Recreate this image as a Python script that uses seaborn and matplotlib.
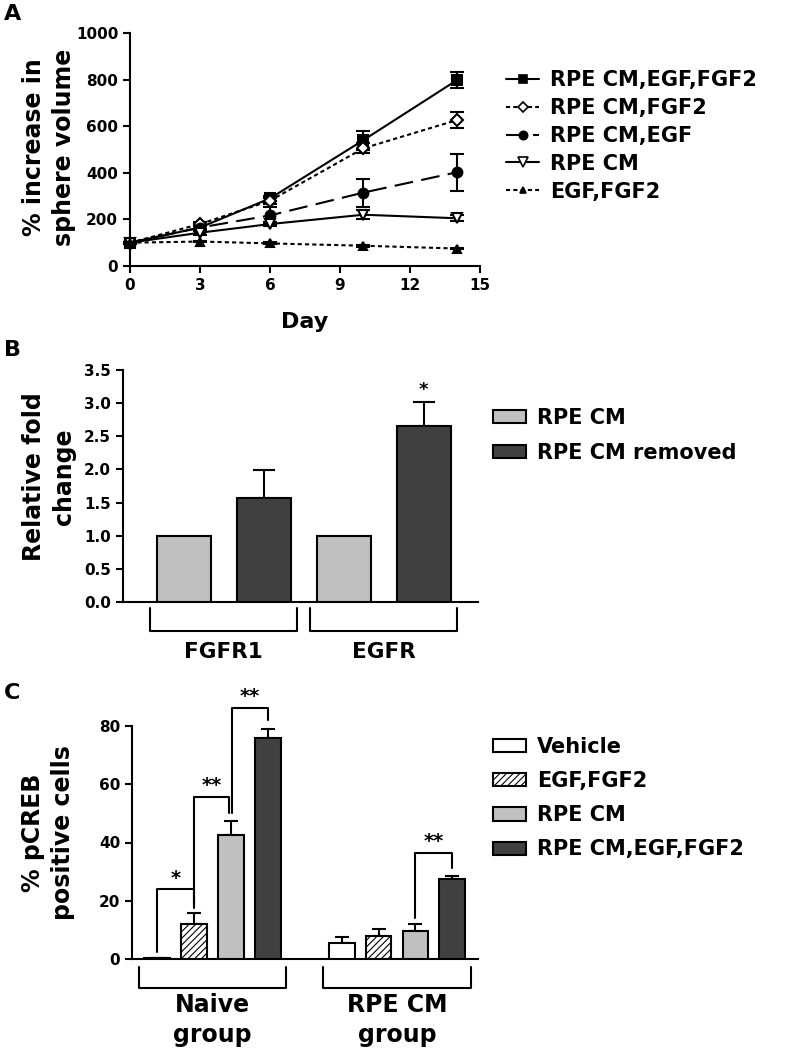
import matplotlib
matplotlib.use("Agg")
import matplotlib.pyplot as plt
import matplotlib.transforms as mtransforms
from matplotlib.lines import Line2D
from matplotlib.patches import Patch
import pandas as pd
import seaborn as sns

sns.set_style("ticks")
plt.rcParams['font.family'] = ['DejaVu Sans']
plt.rcParams['font.weight'] = 'bold'
plt.rcParams['axes.labelweight'] = 'bold'
plt.rcParams['hatch.linewidth'] = 0.8
for key in ['text.color', 'axes.labelcolor', 'xtick.color', 'ytick.color', 'axes.edgecolor']:
    plt.rcParams[key] = 'black'

# ---- panel A: sphere volume over time ----
days = [0, 3, 6, 10, 14]
series_names = ["RPE CM,EGF,FGF2", "RPE CM,FGF2", "RPE CM,EGF", "RPE CM", "EGF,FGF2"]
vol_cm_egf_fgf2 = [100, 165, 290, 540, 797]
vol_cm_fgf2 = [100, 180, 280, 505, 626]
vol_cm_egf = [100, 165, 217, 315, 402]
vol_cm = [100, 143, 180, 220, 205]
vol_egf_fgf2 = [100, 105, 97, 87, 75]
err_cm_egf_fgf2 = [4, 8, 12, 40, 35]
err_cm_fgf2 = [4, 8, 12, 22, 33]
err_cm_egf = [4, 8, 35, 60, 78]
err_cm = [4, 8, 10, 20, 12]
err_egf_fgf2 = [3, 4, 4, 4, 4]

# ---- panel B: receptor expression ----
genes = ["FGFR1", "EGFR"]
conditions_b = ["RPE CM", "RPE CM removed"]
fold_rpe_cm = [1.0, 1.0]
fold_removed = [1.57, 2.66]
fold_err_removed = [0.42, 0.35]

# ---- panel C: pCREB ----
groups = ["Naive\ngroup", "RPE CM\ngroup"]
treatments = ["Vehicle", "EGF,FGF2", "RPE CM", "RPE CM,EGF,FGF2"]
pcreb_vehicle = [0.3, 5.6]
pcreb_egf_fgf2 = [12.0, 7.9]
pcreb_rpe_cm = [42.6, 9.6]
pcreb_rpe_cm_egf_fgf2 = [75.8, 27.5]
pcreb_err_vehicle = [0.2, 2.1]
pcreb_err_egf_fgf2 = [3.9, 2.3]
pcreb_err_rpe_cm = [4.9, 2.3]
pcreb_err_rpe_cm_egf_fgf2 = [3.2, 1.0]

LIGHT = "#c0c0c0"
DARK = "#404040"
W, H = 806, 1050


def px_axes(left, top, right, bottom):
    return fig.add_axes([left / W, 1 - bottom / H, (right - left) / W, (bottom - top) / H])


def style_axes(ax):
    sns.despine(ax=ax)
    for s in ["left", "bottom"]:
        ax.spines[s].set_linewidth(1.5)
        ax.spines[s].set_color("black")
    ax.tick_params(axis="y", direction="out", length=5, width=1.5, labelsize=11)
    for lab in ax.get_yticklabels():
        lab.set_fontweight("bold")


def group_bracket(ax, x0, x1, ytop, ybot, label, ylab, fs):
    tr = mtransforms.blended_transform_factory(ax.transData, ax.transAxes)
    ax.plot([x0, x0, x1, x1], [ytop, ybot, ybot, ytop], color="black", lw=1.5,
            transform=tr, clip_on=False)
    ax.text((x0 + x1) / 2, ylab, label, transform=tr, ha="center", va="center",
            fontsize=fs, fontweight="bold", linespacing=1.3)


fig = plt.figure(figsize=(W / 100, H / 100), dpi=100)

# ================= A =================
axA = px_axes(130, 33, 480, 266)
vols = [vol_cm_egf_fgf2, vol_cm_fgf2, vol_cm_egf, vol_cm, vol_egf_fgf2]
errs = [err_cm_egf_fgf2, err_cm_fgf2, err_cm_egf, err_cm, err_egf_fgf2]
line_styles = [
    dict(marker="s", markerfacecolor="black", linestyle="-", markersize=7),
    dict(marker="D", markerfacecolor="white", linestyle=(0, (2, 1.5)), markersize=6),
    dict(marker="o", markerfacecolor="black", linestyle=(0, (9, 4)), markersize=7),
    dict(marker="v", markerfacecolor="white", linestyle="-", markersize=7.5),
    dict(marker="^", markerfacecolor="black", linestyle=(0, (2, 1.5)), markersize=6),
]
dfA = pd.DataFrame({
    "day": days * len(series_names),
    "volume": sum(vols, []),
    "err": sum(errs, []),
    "series": [n for n in series_names for _ in days],
})
legend_a = []
for name, st in zip(series_names, line_styles):
    sub = dfA[dfA["series"] == name]
    eb = axA.errorbar(sub["day"], sub["volume"], yerr=sub["err"], fmt="none",
                      ecolor="black", elinewidth=1.5, capsize=5, capthick=1.5, zorder=2)
    for c in eb.get_children():
        c.set_clip_on(False)
    sns.lineplot(data=sub, x="day", y="volume", ax=axA, color="black", lw=1.5,
                 markeredgecolor="black", markeredgewidth=1.5, clip_on=False,
                 zorder=3, **st)
    legend_a.append(Line2D([0], [0], color="black", lw=1.5, markeredgecolor="black",
                           markeredgewidth=1.2, **{**st, "markersize": st["markersize"] - 1}))
axA.set_xlim(0, 15)
axA.set_ylim(0, 1000)
axA.set_xticks([0, 3, 6, 9, 12, 15])
axA.set_yticks(range(0, 1001, 200))
style_axes(axA)
axA.tick_params(axis="x", direction="out", length=5, width=1.5, labelsize=11)
for lab in axA.get_xticklabels():
    lab.set_fontweight("bold")
axA.set_xlabel("Day", fontsize=16, fontweight="bold", labelpad=14)
axA.set_ylabel("")
fig.text(49 / W, 1 - 147 / H, "% increase in\nsphere volume", rotation=90, ha="center",
         va="center", fontsize=17, fontweight="bold", linespacing=1.36)
fig.legend(legend_a, series_names, loc="upper left", bbox_to_anchor=(506 / W, 1 - 70 / H),
           frameon=False, fontsize=15, handlelength=1.6, handletextpad=0.5,
           labelspacing=0.38, borderpad=0, borderaxespad=0)

# ================= B =================
axB = px_axes(123, 370, 478, 602)
dfB = pd.DataFrame({
    "gene": genes * 2,
    "condition": [conditions_b[0]] * 2 + [conditions_b[1]] * 2,
    "fold": fold_rpe_cm + fold_removed,
})
sns.barplot(data=dfB, x="gene", y="fold", hue="condition", order=genes,
            hue_order=conditions_b, palette=[LIGHT, DARK], width=1.0, gap=0.325,
            edgecolor="black", linewidth=1.5, errorbar=None, legend=False, ax=axB,
            zorder=3)
bars_removed = list(axB.containers[1])
for bar, e in zip(bars_removed, fold_err_removed):
    xc = bar.get_x() + bar.get_width() / 2
    axB.errorbar([xc], [bar.get_height()], yerr=[[0], [e]], fmt="none", ecolor="black",
                 elinewidth=1.5, capsize=8, capthick=1.5, zorder=2)
star_bar = bars_removed[1]
axB.text(star_bar.get_x() + star_bar.get_width() / 2, 3.06, "*", ha="center",
         va="bottom", fontsize=13, fontweight="bold")
axB.set_xlim(-0.63, 1.59)
axB.set_ylim(0, 3.5)
axB.set_yticks([0, 0.5, 1.0, 1.5, 2.0, 2.5, 3.0, 3.5])
axB.set_yticklabels([f"{v:.1f}" for v in axB.get_yticks()])
style_axes(axB)
axB.set_xticks([])
axB.set_xlabel("")
axB.set_ylabel("")
for i, g in enumerate(genes):
    group_bracket(axB, i - 0.46, i + 0.46, -0.026, -0.125, g, -0.216, 15.5)
fig.text(49 / W, 1 - 477 / H, "Relative fold\nchange", rotation=90, ha="center",
         va="center", fontsize=17, fontweight="bold", linespacing=1.36)
fig.legend([Patch(facecolor=LIGHT, edgecolor="black", lw=1.5),
            Patch(facecolor=DARK, edgecolor="black", lw=1.5)], conditions_b,
           loc="upper left", bbox_to_anchor=(493 / W, 1 - 408 / H), frameon=False,
           fontsize=15, handlelength=1.6, handleheight=0.6, handletextpad=0.5,
           labelspacing=0.72, borderpad=0, borderaxespad=0)

# ================= C =================
axC = px_axes(132, 726, 478, 959)
vals_c = [pcreb_vehicle, pcreb_egf_fgf2, pcreb_rpe_cm, pcreb_rpe_cm_egf_fgf2]
errs_c = [pcreb_err_vehicle, pcreb_err_egf_fgf2, pcreb_err_rpe_cm, pcreb_err_rpe_cm_egf_fgf2]
dfC = pd.DataFrame({
    "group": groups * len(treatments),
    "treatment": [t for t in treatments for _ in groups],
    "pcreb": sum(vals_c, []),
})
colors_c = ["white", "white", LIGHT, DARK]
sns.barplot(data=dfC, x="group", y="pcreb", hue="treatment", order=groups,
            hue_order=treatments, palette=colors_c, width=0.8, gap=0.3,
            edgecolor="black", linewidth=1.5, errorbar=None, legend=False, ax=axC,
            zorder=3)
bar_conts = [list(c) for c in axC.containers]
for bar in bar_conts[1]:
    bar.set_hatch("/////")
centers = {}
for ti, cont in enumerate(bar_conts):
    for gi, bar in enumerate(cont):
        xc = bar.get_x() + bar.get_width() / 2
        centers[(gi, ti)] = xc
        axC.errorbar([xc], [bar.get_height()], yerr=[[0], [errs_c[ti][gi]]], fmt="none",
                     ecolor="black", elinewidth=1.5, capsize=5, capthick=1.5, zorder=2)

# significance brackets: group, left bar, right bar, top, left foot, right foot, label
sig_brackets = [
    (0, 0, 1, 24.0, 2.5, 17.5, "*"),
    (0, 1, 2, 55.7, 18.5, 50.0, "**"),
    (0, 2, 3, 86.3, 50.0, 82.0, "**"),
    (1, 2, 3, 36.5, 14.0, 31.2, "**"),
]
for g, a, b, top, fa, fb, lab in sig_brackets:
    xa = centers[(g, a)] + (0.008 if (g, a) == (0, 2) else 0)
    xb = centers[(g, b)] - (0.008 if (g, b) == (0, 2) else 0)
    axC.plot([xa, xa, xb, xb], [fa, top, top, fb], color="black", lw=1.5,
             clip_on=False, zorder=4)
    axC.text((xa + xb) / 2, top + 0.5, lab, ha="center", va="bottom", fontsize=14,
             fontweight="bold")
axC.set_xlim(-0.436, 1.439)
axC.set_ylim(0, 80)
axC.set_yticks([0, 20, 40, 60, 80])
style_axes(axC)
axC.set_xticks([])
axC.set_xlabel("")
axC.set_ylabel("")
for i, g in enumerate(groups):
    group_bracket(axC, i - 0.40, i + 0.40, -0.034, -0.124, g, -0.262, 17)
fig.text(48 / W, 1 - 833 / H, "% pCREB\npositive cells", rotation=90, ha="center",
         va="center", fontsize=17, fontweight="bold", linespacing=1.36)
handles_c = [Patch(facecolor=c, edgecolor="black", lw=1.5) for c in colors_c]
handles_c[1].set_hatch("/////")
fig.legend(handles_c, treatments, loc="upper left", bbox_to_anchor=(493 / W, 1 - 737 / H),
           frameon=False, fontsize=15, handlelength=1.6, handleheight=0.6,
           handletextpad=0.5, labelspacing=0.68, borderpad=0, borderaxespad=0)

# panel letters
for letter, y in [("A", 14), ("B", 350), ("C", 693)]:
    fig.text(4 / W, 1 - y / H, letter, ha="left", va="center", fontsize=16,
             fontweight="bold")

fig.savefig("out.png", dpi=100)
